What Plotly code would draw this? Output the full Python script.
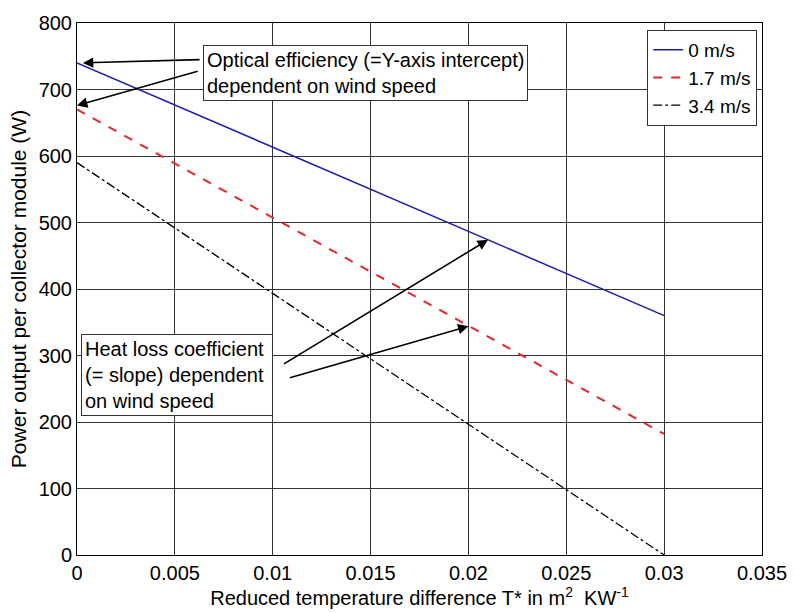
import plotly.graph_objects as go

# ---- data ----
x_vals = [0.0, 0.03]
series_names = ["0 m/s", "1.7 m/s", "3.4 m/s"]
p_0 = [740, 360]
p_17 = [670, 182]
p_34 = [590, 0]

x_ticks = [0, 0.005, 0.01, 0.015, 0.02, 0.025, 0.03, 0.035]
x_ticktext = ["0", "0.005", "0.01", "0.015", "0.02", "0.025", "0.03", "0.035"]
y_ticks = [0, 100, 200, 300, 400, 500, 600, 700, 800]

# annotation boxes: (x, y, text)
box_optical = (0.00645, 767, "Optical efficiency (=Y-axis intercept)<br>dependent on wind speed")
box_heat = (0.0002, 332, "Heat loss coefficient <br>(= slope) dependent<br>on wind speed")
# arrows: (tail_x, tail_y, tip_x, tip_y)
arrows = [
    (0.00634, 745, 0.0003, 740),
    (0.00624, 728, 0.0, 676),
    (0.0105, 286, 0.021, 474),
    (0.0108, 266, 0.02, 344),
]

FONT = "Liberation Sans, Arial, sans-serif"

fig = go.Figure()
fig.add_trace(go.Scatter(x=x_vals, y=p_0, mode="lines", name=series_names[0],
                         line=dict(color="#1c1cb0", width=1.5)))
fig.add_trace(go.Scatter(x=x_vals, y=p_17, mode="lines", name=series_names[1],
                         line=dict(color="#e3262b", width=2, dash="dash")))
fig.add_trace(go.Scatter(x=x_vals, y=p_34, mode="lines", name=series_names[2],
                         line=dict(color="#000000", width=1.3, dash="dashdot")))

annotations = []
for (tx, ty, hx, hy) in arrows:
    annotations.append(dict(x=hx, y=hy, ax=tx, ay=ty, xref="x", yref="y",
                            axref="x", ayref="y", text="", showarrow=True,
                            arrowhead=2, arrowsize=1.3, arrowwidth=1.6,
                            arrowcolor="black", standoff=0, startstandoff=0))
for (bx, by, txt) in [box_optical, box_heat]:
    annotations.append(dict(x=bx, y=by, xref="x", yref="y", text=txt,
                            showarrow=False, xanchor="left", yanchor="top",
                            align="left", bgcolor="white", bordercolor="#333",
                            borderwidth=1, borderpad=3,
                            font=dict(family=FONT, size=20, color="black")))

fig.update_layout(
    width=799, height=613,
    margin=dict(l=77, r=27, t=18, b=58),
    paper_bgcolor="white", plot_bgcolor="white",
    font=dict(family=FONT, size=19, color="black"),
    showlegend=True,
    legend=dict(x=0.993, y=0.987, xanchor="right", yanchor="top",
                bgcolor="white", bordercolor="#333", borderwidth=1,
                font=dict(family=FONT, size=19, color="black"),
                tracegroupgap=0),
    annotations=annotations,
    xaxis=dict(range=[0, 0.035], tickvals=x_ticks, ticktext=x_ticktext,
               showgrid=True, gridcolor="#333", gridwidth=1,
               showline=True, linecolor="black", linewidth=1, mirror=True,
               zeroline=False, ticks="", tickfont=dict(size=20),
               title=dict(text="Reduced temperature difference T* in m<sup>2</sup>  KW<sup>-1</sup>",
                          font=dict(size=20), standoff=2)),
    yaxis=dict(range=[0, 800], tickvals=y_ticks,
               showgrid=True, gridcolor="#333", gridwidth=1,
               showline=True, linecolor="black", linewidth=1, mirror=True,
               zeroline=False, ticks="", tickfont=dict(size=20),
               title=dict(text="Power output per collector module (W)",
                          font=dict(size=21), standoff=6)),
)

fig.write_html("out.html")
